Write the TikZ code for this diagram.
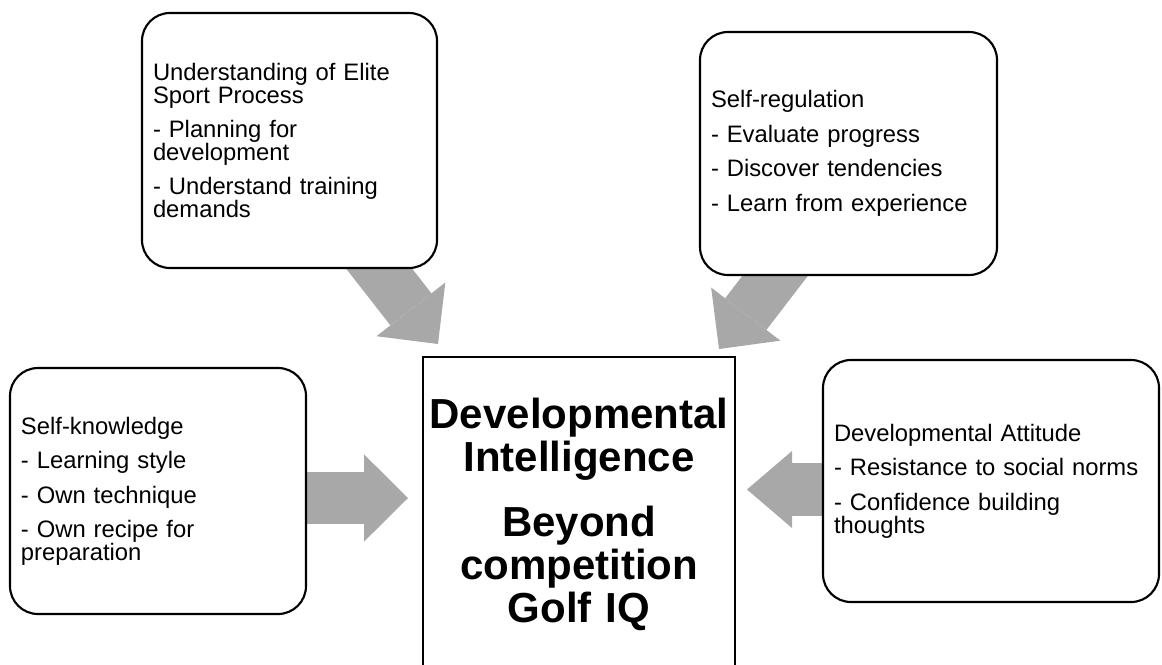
\documentclass[tikz,border=0pt]{standalone}
\usepackage{fontspec}
\setmainfont{Liberation Sans}
\usetikzlibrary{arrows.meta}

\definecolor{arrowgrey}{RGB}{168,168,168}

% text sizes for the outer boxes and the centre box
\newcommand{\itemfont}{\fontsize{17.85pt}{17pt}\selectfont}
\newcommand{\corefont}{\fontsize{31.5pt}{32.25pt}\selectfont\bfseries}

\tikzset{
  topicbox/.style={draw, line width=1.6pt, rounded corners=21pt, fill=white,
    align=left, inner xsep=8.25pt, inner ysep=0pt, font=\itemfont},
  corebox/.style={draw, line width=1.6pt, fill=white, align=center,
    inner xsep=2.25pt, inner ysep=0pt, font=\corefont},
  bigarrow/.style={arrowgrey, line width=39pt,
    -{Triangle[line width=0pt, length=33pt, width=65.5pt]}},
  bigarrownarrow/.style={arrowgrey, line width=39.5pt,
    -{Triangle[line width=0pt, length=33.75pt, width=57.75pt]}},
}

\begin{document}
\begin{tikzpicture}[x=0.75pt, y=-0.75pt]
  \clip (0,0) rectangle (1162,664);

  % arrow ends: tails sit under the topic boxes
  \coordinate (espTail) at (358,241.6);
  \coordinate (espTip)  at (438,344);
  \coordinate (srTail)  at (798,246);
  \coordinate (srTip)   at (719,349);
  \coordinate (skTail)  at (290,498);
  \coordinate (skTip)   at (408,498);
  \coordinate (daTail)  at (840,489.5);
  \coordinate (daTip)   at (747,489.5);

  % block arrows pointing at the centre
  \draw[bigarrow] (espTail) -- (espTip);
  \draw[bigarrow] (srTail) -- (srTip);
  \draw[bigarrow] (skTail) -- (skTip);
  \draw[bigarrownarrow] (daTail) -- (daTip);

  % topic boxes
  \node[topicbox, minimum width=221.25pt, minimum height=191.25pt,
        text width=204.75pt] (esp) at (289.5,140.5)
    {Understanding of Elite\\Sport Process\\[8.9pt]
     - Planning for\\development\\[8.9pt]
     - Understand training\\demands};

  \node[topicbox, minimum width=222.75pt, minimum height=182.25pt,
        text width=206.25pt] (sr) at (848.5,153.5)
    {Self-regulation\\[8.9pt]
     - Evaluate progress\\[8.9pt]
     - Discover tendencies\\[8.9pt]
     - Learn from experience};

  \node[topicbox, minimum width=222pt, minimum height=184.5pt,
        text width=205.5pt] (sk) at (158,491)
    {Self-knowledge\\[8.9pt]
     - Learning style\\[8.9pt]
     - Own technique\\[8.9pt]
     - Own recipe for\\preparation};

  \node[topicbox, minimum width=252pt, minimum height=181.5pt,
        text width=235.5pt] (da) at (991,481)
    {Developmental Attitude\\[8.9pt]
     - Resistance to social norms\\[8.9pt]
     - Confidence building\\thoughts};

  % centre box
  \node[corebox, minimum width=234pt, minimum height=236.25pt,
        text width=229.5pt] (di) at (579,514.5)
    {Developmental\\Intelligence\\[16.5pt]
     Beyond\\competition\\Golf IQ};
\end{tikzpicture}
\end{document}
